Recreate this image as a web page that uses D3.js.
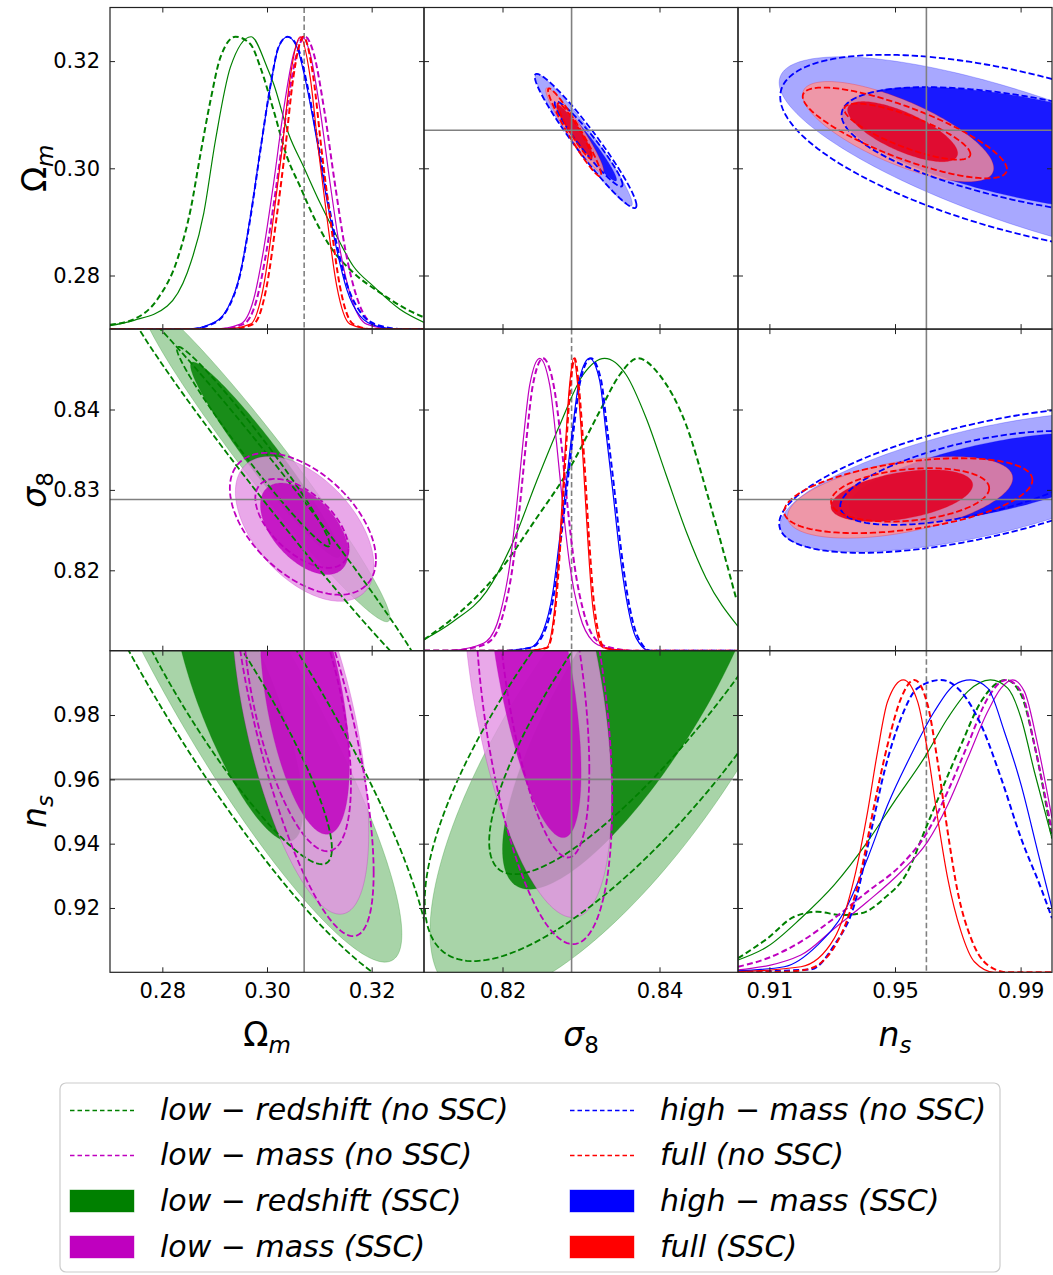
<!DOCTYPE html>
<html><head><meta charset="utf-8">
<script src="https://cdn.jsdelivr.net/npm/d3@7"></script>
<style>
body{margin:0;background:#fff}
svg{display:block}
text{font-family:"DejaVu Sans",sans-serif}
</style>
</head><body>
<svg id="chart" width="1053" height="1275"></svg>
<script>
// ---------------- DATA ----------------
const paramNames = ["Om", "s8", "ns"];
const domains = {Om: [0.27, 0.33], s8: [0.81, 0.85], ns: [0.90, 1.00]};
const fiducial = {Om: 0.3071, s8: 0.8288, ns: 0.96};
const xTicks = {Om: [0.28, 0.30, 0.32], s8: [0.82, 0.84], ns: [0.91, 0.95, 0.99]};
const yTicks = {Om: [0.28, 0.30, 0.32], s8: [0.82, 0.83, 0.84], ns: [0.92, 0.94, 0.96, 0.98]};
const seriesNames = ["low-redshift", "low-mass", "high-mass", "full"];

// 2D contours: [series, kind, level, cx, cy, rx, ry, rho]  (data units)
const contS8Om = [ // x: sigma8, y: Omega_m
  ["high-mass","ssc",95, 0.83034,0.30529,0.00619,0.01234,-0.965],
  ["high-mass","ssc",68, 0.83059,0.30492,0.00394,0.00729,-0.963],
  ["high-mass","nossc",95, 0.83059,0.30510,0.00648,0.01252,-0.96],
  ["high-mass","nossc",68, 0.83097,0.30454,0.00432,0.00794,-0.955],
  ["full","ssc",95, 0.82919,0.30707,0.00369,0.00794,-0.95],
  ["full","ssc",68, 0.82919,0.30697,0.00229,0.00486,-0.94],
  ["full","nossc",95, 0.82919,0.30669,0.00339,0.00822,-0.96],
  ["full","nossc",68, 0.82919,0.30697,0.00216,0.00518,-0.95]
];
const contNsOm = [ // x: n_s, y: Omega_m
  ["high-mass","ssc",95, 0.99121,0.30155,0.0781,0.01925,-0.75],
  ["high-mass","ssc",68, 0.99440,0.30342,0.06142,0.01172,-0.584],
  ["high-mass","nossc",95, 0.99280,0.30249,0.07936,0.01869,-0.58],
  ["high-mass","nossc",68, 0.99599,0.30305,0.06301,0.01209,-0.57],
  ["full","ssc",95, 0.95099,0.30684,0.03044,0.009346,-0.73],
  ["full","ssc",68, 0.95242,0.30684,0.01753,0.00561,-0.72],
  ["full","nossc",95, 0.95312,0.30660,0.03251,0.00847,-0.80],
  ["full","nossc",68, 0.95392,0.30684,0.02008,0.00523,-0.80]
];
const contNsS8 = [ // x: n_s, y: sigma8
  ["high-mass","ssc",95, 0.97782,0.83099,0.06438,0.00870,0.62],
  ["high-mass","ssc",68, 0.98006,0.83149,0.04462,0.00559,0.62],
  ["high-mass","nossc",95, 0.97846,0.83124,0.06534,0.00907,0.60],
  ["high-mass","nossc",68, 0.97527,0.83149,0.04271,0.00584,0.60],
  ["full","ssc",95, 0.95163,0.82907,0.03586,0.00507,0.47],
  ["full","ssc",68, 0.95217,0.82928,0.02257,0.00321,0.42],
  ["full","nossc",95, 0.95424,0.82928,0.03952,0.00466,0.42],
  ["full","nossc",68, 0.95481,0.82938,0.02518,0.00332,0.25]
];
const contOmS8 = [ // x: Omega_m, y: sigma8
  ["low-redshift","ssc",95, 0.29968,0.83360,0.02381,0.02000,-0.974],
  ["low-redshift","ssc",68, 0.29968,0.83373,0.01429,0.01217,-0.964],
  ["low-redshift","nossc",95, 0.30158,0.83000,0.02857,0.02360,-0.991],
  ["low-redshift","nossc",68, 0.29739,0.83538,0.01461,0.01242,-0.98],
  ["low-mass","ssc",95, 0.30720,0.82516,0.01324,0.00901,-0.51],
  ["low-mass","ssc",68, 0.30712,0.82516,0.00838,0.00569,-0.52],
  ["low-mass","nossc",95, 0.30686,0.82578,0.01396,0.00882,-0.50],
  ["low-mass","nossc",68, 0.30667,0.82584,0.00890,0.00553,-0.57]
];
const contOmNs = [ // x: Omega_m, y: n_s
  ["low-redshift","ssc",95, 0.29339,0.99012,0.03238,0.08696,-0.9],
  ["low-redshift","ssc",68, 0.29438,0.98484,0.01248,0.04410,-0.775],
  ["low-redshift","nossc",95, 0.29396,0.98795,0.03714,0.09317,-0.9],
  ["low-redshift","nossc",68, 0.29097,0.98795,0.02143,0.05435,-0.91],
  ["low-mass","ssc",95, 0.30634,0.97863,0.01310,0.06056,-0.58],
  ["low-mass","ssc",68, 0.30722,0.98484,0.00853,0.04193,-0.49],
  ["low-mass","nossc",95, 0.30693,0.97863,0.01345,0.06739,-0.707],
  ["low-mass","nossc",68, 0.30577,0.98484,0.01027,0.04720,-0.557]
];
const contS8Ns = [ // x: sigma8, y: n_s
  ["low-redshift","ssc",95, 0.83619,0.97553,0.02543,0.08385,0.75],
  ["low-redshift","ssc",68, 0.83700,0.98795,0.01700,0.06211,0.80],
  ["low-redshift","nossc",95, 0.83809,0.98795,0.02800,0.08447,0.78],
  ["low-redshift","nossc",68, 0.84114,1.00193,0.02284,0.07143,0.859],
  ["low-mass","ssc",95, 0.82441,0.98848,0.00949,0.07143,-0.48],
  ["low-mass","ssc",68, 0.82403,0.99469,0.00598,0.05280,-0.615],
  ["low-mass","nossc",95, 0.82525,0.98640,0.00873,0.07764,-0.426],
  ["low-mass","nossc",68, 0.82515,0.99469,0.00591,0.05900,-0.54]
];

// 1D marginals: [value, relative height]
const curvesOm = [
  {s:"low-redshift", k:"nossc", pts:[[0.27,0.015],[0.27459,0.034],[0.27905,0.102],[0.28286,0.238],[0.28539,0.408],[0.2873,0.6],[0.2892,0.782],[0.29111,0.93],[0.29396,1],[0.29682,0.975],[0.29872,0.896],[0.30126,0.748],[0.30381,0.59],[0.30634,0.487],[0.30888,0.385],[0.31206,0.283],[0.3165,0.193],[0.32158,0.125],[0.32667,0.068],[0.33,0.04]]},
  {s:"low-redshift", k:"ssc", pts:[[0.27,0.012],[0.27459,0.03],[0.28095,0.079],[0.28476,0.193],[0.28792,0.397],[0.29015,0.646],[0.29301,0.896],[0.29695,1],[0.3,0.896],[0.30126,0.839],[0.30411,0.669],[0.30697,0.556],[0.31015,0.431],[0.31269,0.34],[0.3165,0.215],[0.32031,0.147],[0.32539,0.068],[0.33,0.023]]},
  {s:"low-mass", k:"nossc", pts:[[0.27,0],[0.291,0],[0.29551,0.017],[0.29805,0.102],[0.29995,0.272],[0.30186,0.499],[0.30376,0.748],[0.30567,0.941],[0.30727,1],[0.30895,0.941],[0.31095,0.748],[0.31296,0.499],[0.31496,0.272],[0.31729,0.102],[0.32025,0.017],[0.325,0],[0.33,0]]},
  {s:"low-mass", k:"ssc", pts:[[0.27,0],[0.29,0],[0.29491,0.017],[0.29745,0.102],[0.29935,0.272],[0.30126,0.499],[0.30316,0.748],[0.30507,0.941],[0.30667,1],[0.30825,0.941],[0.31015,0.748],[0.31206,0.499],[0.31396,0.272],[0.31619,0.102],[0.31905,0.017],[0.324,0],[0.33,0]]},
  {s:"high-mass", k:"nossc", pts:[[0.27,0],[0.285,0],[0.2892,0.015],[0.29238,0.066],[0.29491,0.19],[0.29682,0.38],[0.29872,0.61],[0.30063,0.83],[0.30221,0.965],[0.30392,1],[0.30571,0.97],[0.30762,0.84],[0.30952,0.66],[0.31143,0.46],[0.31333,0.29],[0.31524,0.155],[0.31777,0.06],[0.32095,0.015],[0.326,0],[0.33,0]]},
  {s:"high-mass", k:"ssc", pts:[[0.27,0],[0.285,0],[0.2892,0.017],[0.29238,0.068],[0.29491,0.193],[0.29682,0.385],[0.29872,0.612],[0.30063,0.828],[0.30221,0.964],[0.30392,1],[0.30571,0.964],[0.30762,0.828],[0.30952,0.646],[0.31143,0.442],[0.31333,0.272],[0.31524,0.136],[0.31777,0.045],[0.32095,0.01],[0.325,0],[0.33,0]]},
  {s:"full", k:"nossc", pts:[[0.27,0],[0.293,0],[0.29742,0.017],[0.29995,0.147],[0.30186,0.385],[0.30346,0.612],[0.30504,0.862],[0.30694,1],[0.30885,0.862],[0.31043,0.612],[0.31203,0.385],[0.31393,0.147],[0.31647,0.017],[0.32,0],[0.33,0]]},
  {s:"full", k:"ssc", pts:[[0.27,0],[0.292,0],[0.29682,0.017],[0.29935,0.147],[0.30126,0.385],[0.30286,0.612],[0.30444,0.862],[0.30634,1],[0.30825,0.862],[0.30983,0.612],[0.31143,0.385],[0.31333,0.147],[0.31587,0.017],[0.32,0],[0.33,0]]}
];
const curvesS8 = [
  {s:"low-redshift", k:"nossc", pts:[[0.81,0.038],[0.81372,0.112],[0.81924,0.26],[0.82432,0.453],[0.82856,0.624],[0.83237,0.818],[0.83491,0.943],[0.83724,1],[0.84,0.943],[0.8434,0.772],[0.84636,0.51],[0.84975,0.18]]},
  {s:"low-redshift", k:"ssc", pts:[[0.81,0.038],[0.81372,0.1],[0.81797,0.203],[0.82135,0.373],[0.82432,0.578],[0.82729,0.772],[0.83025,0.943],[0.83301,1],[0.83577,0.943],[0.83831,0.795],[0.84085,0.601],[0.8434,0.408],[0.84594,0.248],[0.85,0.083]]},
  {s:"low-mass", k:"nossc", pts:[[0.81,0],[0.813,0],[0.81624,0.01],[0.81837,0.032],[0.82006,0.123],[0.82133,0.294],[0.82218,0.488],[0.82302,0.715],[0.82387,0.909],[0.82516,1],[0.82651,0.909],[0.82747,0.715],[0.82831,0.488],[0.82916,0.294],[0.83043,0.123],[0.83212,0.032],[0.83382,0.01],[0.837,0],[0.85,0]]},
  {s:"low-mass", k:"ssc", pts:[[0.81,0],[0.813,0],[0.81584,0.01],[0.81797,0.032],[0.81966,0.123],[0.82093,0.294],[0.82178,0.488],[0.82262,0.715],[0.82347,0.909],[0.82474,1],[0.82601,0.909],[0.82687,0.715],[0.82771,0.488],[0.82856,0.294],[0.82983,0.123],[0.83152,0.032],[0.83322,0.01],[0.836,0],[0.85,0]]},
  {s:"high-mass", k:"nossc", pts:[[0.81,0],[0.82,0],[0.82357,0.01],[0.82526,0.06],[0.82653,0.19],[0.82739,0.37],[0.82824,0.565],[0.82908,0.76],[0.82993,0.925],[0.83125,1],[0.83252,0.93],[0.83337,0.75],[0.83421,0.56],[0.83506,0.355],[0.83592,0.19],[0.83719,0.05],[0.83888,0],[0.85,0]]},
  {s:"high-mass", k:"ssc", pts:[[0.81,0],[0.82,0],[0.82347,0.01],[0.82516,0.066],[0.82643,0.203],[0.82729,0.385],[0.82814,0.578],[0.82898,0.772],[0.82983,0.932],[0.8311,1],[0.83237,0.925],[0.83322,0.738],[0.83406,0.544],[0.83491,0.339],[0.83577,0.18],[0.83704,0.043],[0.83873,0],[0.85,0]]},
  {s:"full", k:"nossc", pts:[[0.81,0],[0.823,0],[0.82569,0.01],[0.82675,0.146],[0.82739,0.373],[0.82802,0.658],[0.82859,0.886],[0.82919,1],[0.82979,0.886],[0.8304,0.658],[0.83105,0.373],[0.83172,0.146],[0.83299,0.01],[0.836,0],[0.85,0]]},
  {s:"full", k:"ssc", pts:[[0.81,0],[0.823,0],[0.82559,0.01],[0.82665,0.146],[0.82729,0.373],[0.82792,0.658],[0.82847,0.886],[0.82907,1],[0.82966,0.886],[0.83025,0.658],[0.83088,0.373],[0.83152,0.146],[0.83279,0.01],[0.836,0],[0.85,0]]}
];
const curvesNs = [
  {s:"low-redshift", k:"nossc", pts:[[0.9,0.048],[0.90939,0.116],[0.9179,0.19],[0.92533,0.207],[0.93279,0.196],[0.93916,0.202],[0.94659,0.253],[0.95402,0.344],[0.95934,0.481],[0.96466,0.618],[0.97104,0.778],[0.97741,0.926],[0.98538,1],[0.99016,0.949],[0.9944,0.778],[1.0,0.458]]},
  {s:"low-redshift", k:"ssc", pts:[[0.9,0.042],[0.90939,0.088],[0.92004,0.185],[0.93065,0.299],[0.94127,0.447],[0.94978,0.584],[0.95988,0.743],[0.96677,0.869],[0.97314,0.96],[0.98038,1],[0.98589,0.972],[0.99016,0.869],[0.9944,0.686],[1.0,0.458]]},
  {s:"low-mass", k:"nossc", pts:[[0.9,0.019],[0.90939,0.048],[0.92004,0.105],[0.93065,0.185],[0.94127,0.276],[0.95191,0.367],[0.96039,0.481],[0.96677,0.618],[0.97314,0.778],[0.97951,0.937],[0.98538,1],[0.99016,0.96],[0.9944,0.778],[1.0,0.481]]},
  {s:"low-mass", k:"ssc", pts:[[0.9,0.008],[0.92004,0.059],[0.93065,0.15],[0.94127,0.242],[0.95191,0.344],[0.96039,0.447],[0.96677,0.572],[0.97314,0.732],[0.97951,0.892],[0.98379,0.972],[0.98749,1],[0.99123,0.96],[0.99545,0.778],[1.0,0.527]]},
  {s:"high-mass", k:"nossc", pts:[[0.9,0.002],[0.92322,0.01],[0.93065,0.093],[0.93703,0.23],[0.94235,0.481],[0.94659,0.686],[0.95191,0.869],[0.9572,0.972],[0.96466,1],[0.97104,0.96],[0.97741,0.846],[0.98379,0.664],[0.99016,0.458],[0.99653,0.287],[1.0,0.185]]},
  {s:"high-mass", k:"ssc", pts:[[0.9,0.005],[0.91472,0.019],[0.92533,0.093],[0.93384,0.207],[0.94127,0.39],[0.94764,0.572],[0.9551,0.743],[0.96253,0.892],[0.9689,0.983],[0.974,1],[0.97951,0.972],[0.98484,0.823],[0.99016,0.641],[0.99545,0.413],[1.0,0.219]]},
  {s:"full", k:"nossc", pts:[[0.9,0],[0.915,0.002],[0.92214,0.01],[0.93279,0.128],[0.93916,0.344],[0.9434,0.572],[0.94764,0.778],[0.95191,0.937],[0.95615,1],[0.96039,0.915],[0.96358,0.72],[0.96677,0.481],[0.96995,0.276],[0.97422,0.116],[0.97951,0.025],[0.98589,0],[1.0,0]]},
  {s:"full", k:"ssc", pts:[[0.9,0.002],[0.92004,0.019],[0.93065,0.116],[0.93703,0.322],[0.94127,0.549],[0.94445,0.755],[0.94764,0.926],[0.95265,1],[0.9572,0.926],[0.96039,0.755],[0.96358,0.527],[0.96677,0.322],[0.97104,0.139],[0.97528,0.036],[0.98165,0],[1.0,0]]}
];

const legendItems = [
  {s:"low-redshift", k:"nossc", label:"low \u2212 redshift (no SSC)"},
  {s:"low-mass", k:"nossc", label:"low \u2212 mass (no SSC)"},
  {s:"low-redshift", k:"ssc", label:"low \u2212 redshift (SSC)"},
  {s:"low-mass", k:"ssc", label:"low \u2212 mass (SSC)"},
  {s:"high-mass", k:"nossc", label:"high \u2212 mass (no SSC)"},
  {s:"full", k:"nossc", label:"full (no SSC)"},
  {s:"high-mass", k:"ssc", label:"high \u2212 mass (SSC)"},
  {s:"full", k:"ssc", label:"full (SSC)"}
];

// ---------------- STYLE / LAYOUT ----------------
const colors = {"low-redshift":"#008000","low-mass":"#bf00bf","high-mass":"#0000ff","full":"#ff0000"};
const innerFill = {"low-redshift":"#008000","low-mass":"#bf00bf","high-mass":"#0000ff","full":"#e0062a"};
const innerOpacity = {"low-redshift":0.85,"low-mass":0.85,"high-mass":0.85,"full":0.95};
const light = c => d3.interpolateRgb(c, "#ffffff")(0.574);
const L = 110, T = 7.5, PW = 314, PH = 321.6;
const svg = d3.select("#chart");
const defs = svg.append("defs");
const fmt = d3.format(".2f");

function xs(p, col){ return d3.scaleLinear().domain(domains[p]).range([L+col*PW, L+(col+1)*PW]); }
function ys(p, row){ return d3.scaleLinear().domain(domains[p]).range([T+(row+1)*PH, T+row*PH]); }

for (let r=0;r<3;r++) for (let c=0;c<3;c++){
  defs.append("clipPath").attr("id",`clip${r}${c}`).append("rect")
    .attr("x",L+c*PW).attr("y",T+r*PH).attr("width",PW).attr("height",PH);
}

function ellipsePath(e, x, y){
  const s = Math.sqrt(1 - e.rho*e.rho);
  const pts = d3.range(0, 360, 2).map(a => {
    const t = a*Math.PI/180;
    return [x(e.cx + e.rx*Math.cos(t)), y(e.cy + e.ry*(e.rho*Math.cos(t) + s*Math.sin(t)))];
  });
  return d3.line().curve(d3.curveLinearClosed)(pts);
}

const panels2D = [
  {row:0,col:1,data:contS8Om,order:["high-mass","full"]},
  {row:0,col:2,data:contNsOm,order:["high-mass","full"]},
  {row:1,col:2,data:contNsS8,order:["high-mass","full"]},
  {row:1,col:0,data:contOmS8,order:["low-redshift","low-mass"]},
  {row:2,col:0,data:contOmNs,order:["low-redshift","low-mass"]},
  {row:2,col:1,data:contS8Ns,order:["low-redshift","low-mass"]}
];

panels2D.forEach(P => {
  const px = paramNames[P.col], py = paramNames[P.row];
  const x = xs(px, P.col), y = ys(py, P.row);
  const g = svg.append("g").attr("clip-path", `url(#clip${P.row}${P.col})`);
  const items = P.data.map(d => ({s:d[0],k:d[1],lvl:d[2],cx:d[3],cy:d[4],rx:d[5],ry:d[6],rho:d[7]}));
  P.order.forEach(s => {
    [95, 68].forEach(lvl => {
      items.filter(e => e.s===s && e.k==="ssc" && e.lvl===lvl).forEach(e => {
        g.append("path").attr("d", ellipsePath(e,x,y))
          .attr("fill", lvl===95 ? light(colors[s]) : innerFill[s])
          .attr("fill-opacity", lvl===95 ? 0.8 : innerOpacity[s])
          .attr("stroke", colors[s]).attr("stroke-opacity", 0.3).attr("stroke-width", 0.8);
      });
    });
  });
  P.order.forEach(s => {
    items.filter(e => e.s===s && e.k==="nossc").forEach(e => {
      g.append("path").attr("d", ellipsePath(e,x,y))
        .attr("fill","none").attr("stroke", colors[s]).attr("stroke-width", 1.8)
        .attr("stroke-dasharray","6.3,2.8");
    });
  });
  g.append("line").attr("x1", x(fiducial[px])).attr("x2", x(fiducial[px]))
    .attr("y1", T+P.row*PH).attr("y2", T+(P.row+1)*PH)
    .attr("stroke","#808080").attr("stroke-width",1.6);
  g.append("line").attr("y1", y(fiducial[py])).attr("y2", y(fiducial[py]))
    .attr("x1", L+P.col*PW).attr("x2", L+(P.col+1)*PW)
    .attr("stroke","#808080").attr("stroke-width",1.6);
});

// diagonal 1D
const diag = [curvesOm, curvesS8, curvesNs];
diag.forEach((curves, i) => {
  const p = paramNames[i];
  const x = xs(p, i);
  const y = d3.scaleLinear().domain([0, 1.1]).range([T+(i+1)*PH, T+i*PH]);
  const g = svg.append("g").attr("clip-path", `url(#clip${i}${i})`);
  const line = d3.line().x(d => x(d[0])).y(d => y(d[1])).curve(d3.curveMonotoneX);
  g.append("line").attr("x1", x(fiducial[p])).attr("x2", x(fiducial[p]))
    .attr("y1", T+i*PH).attr("y2", T+(i+1)*PH)
    .attr("stroke","#808080").attr("stroke-width",1.6).attr("stroke-dasharray","5.5,3");
  curves.forEach(cv => {
    g.append("path").attr("d", line(cv.pts)).attr("fill","none")
      .attr("stroke", colors[cv.s])
      .attr("stroke-width", cv.k==="ssc"?1.2:2)
      .attr("stroke-dasharray", cv.k==="ssc"?null:"6,3.2");
  });
});

// frames and ticks
for (let r=0;r<3;r++) for (let c=0;c<3;c++){
  const px = paramNames[c], py = paramNames[r];
  const x = xs(px, c), y = ys(py, r);
  const x0 = L+c*PW, y0 = T+r*PH;
  const ga = svg.append("g");
  const blank = () => "";
  ga.append("g").attr("transform",`translate(0,${y0+PH})`)
    .call(d3.axisBottom(x).tickValues(xTicks[px]).tickSizeInner(-5).tickSizeOuter(0).tickPadding(11).tickFormat(r===2?fmt:blank));
  ga.append("g").attr("transform",`translate(0,${y0})`)
    .call(d3.axisTop(x).tickValues(xTicks[px]).tickSizeInner(-5).tickSizeOuter(0).tickFormat(blank));
  ga.append("g").attr("transform",`translate(${x0},0)`)
    .call(d3.axisLeft(y).tickValues(yTicks[py]).tickSizeInner(-5).tickSizeOuter(0).tickPadding(10).tickFormat(c===0?fmt:blank));
  ga.append("g").attr("transform",`translate(${x0+PW},0)`)
    .call(d3.axisRight(y).tickValues(yTicks[py]).tickSizeInner(-5).tickSizeOuter(0).tickFormat(blank));
  ga.selectAll(".domain").remove();
  ga.selectAll(".tick line").attr("stroke","#222").attr("stroke-width",1);
  ga.selectAll("text").attr("font-size",21).attr("font-family","DejaVu Sans").attr("fill","#000");
  svg.append("rect").attr("x",x0).attr("y",y0).attr("width",PW).attr("height",PH)
    .attr("fill","none").attr("stroke","#222").attr("stroke-width",1.2);
}

// axis labels
function mathLabel(sel, main, mainItalic, sub, subItalic){
  const t = sel.append("text").attr("text-anchor","middle").attr("font-size",33).attr("fill","#000");
  t.append("tspan").text(main).attr("font-style", mainItalic?"italic":"normal");
  t.append("tspan").text(sub).attr("font-style", subItalic?"italic":"normal")
    .attr("font-size",23).attr("dy",7);
  return t;
}
const labelDefs = [["\u03A9",false,"m",true],["\u03C3",true,"8",false],["n",true,"s",true]];
labelDefs.forEach((d,i) => {
  mathLabel(svg.append("g").attr("transform",`translate(${L+(i+0.5)*PW},1046)`), d[0],d[1],d[2],d[3]);
  mathLabel(svg.append("g").attr("transform",`translate(46,${T+(i+0.5)*PH}) rotate(-90)`), d[0],d[1],d[2],d[3]);
});

// legend
const lg = svg.append("g");
lg.append("rect").attr("x",60).attr("y",1083).attr("width",940).attr("height",189)
  .attr("rx",6).attr("fill","#fff").attr("stroke","#cccccc").attr("stroke-width",1.2);
const rowsY = [1110, 1155, 1201, 1247];
legendItems.forEach((it, i) => {
  const col = Math.floor(i/4), row = i%4;
  const hx = col===0 ? 70 : 570, tx = col===0 ? 160 : 660;
  const cy = rowsY[row];
  if (it.k==="nossc"){
    lg.append("line").attr("x1",hx).attr("x2",hx+64).attr("y1",cy+0.5).attr("y2",cy+0.5)
      .attr("stroke",colors[it.s]).attr("stroke-width",1.5).attr("stroke-dasharray","4.5,3");
  } else {
    lg.append("rect").attr("x",hx).attr("y",cy-11).attr("width",64).attr("height",22)
      .attr("fill",colors[it.s]).attr("stroke",colors[it.s]).attr("stroke-opacity",0.4);
  }
  lg.append("text").attr("x",tx).attr("y",cy+10).attr("font-size",30)
    .attr("font-style","italic").attr("fill","#000").text(it.label);
});
</script>
</body></html>
